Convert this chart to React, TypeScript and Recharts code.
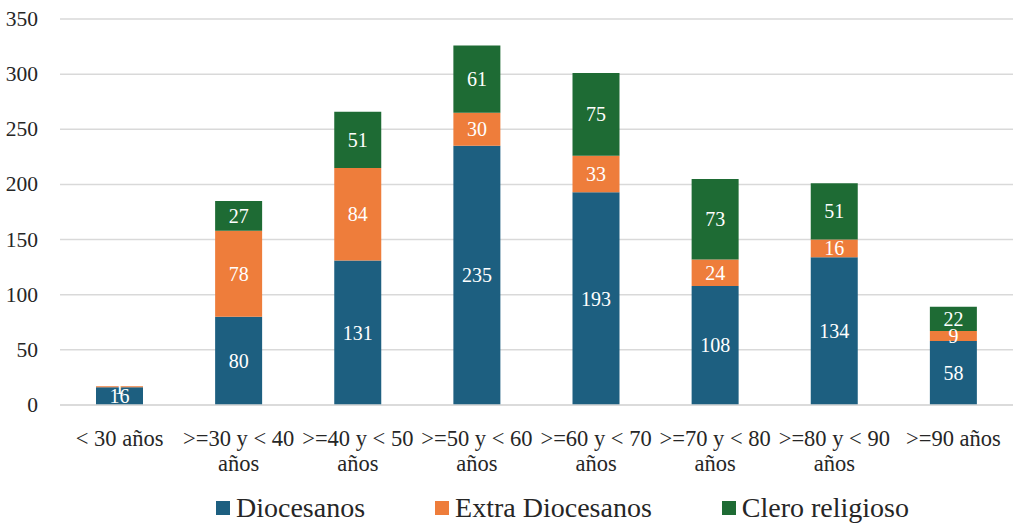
import React from "react";
import { BarChart, Bar, XAxis, YAxis, CartesianGrid, Legend, LabelList } from "recharts";

const categories = ["< 30 años", ">=30 y < 40 años", ">=40 y < 50 años", ">=50 y < 60 años", ">=60 y < 70 años", ">=70 y < 80 años", ">=80 y < 90 años", ">=90 años"];
const diocesanos = [16, 80, 131, 235, 193, 108, 134, 58];
const extraDiocesanos = [1, 78, 84, 30, 33, 24, 16, 9];
const cleroReligioso = [0, 27, 51, 61, 75, 73, 51, 22];
const yTicks = [0, 50, 100, 150, 200, 250, 300, 350];

const data = categories.map((c, i) => ({
  name: c,
  d: diocesanos[i],
  e: extraDiocesanos[i],
  c: cleroReligioso[i],
}));

const FONT = "'Liberation Serif'";
const COLORS = { d: "#1D5F80", e: "#EE7D3B", c: "#1E6B34" };

const XTick = (props: any) => {
  const { x, y, payload } = props;
  const label: string = payload.value;
  let lines: string[];
  if (label.startsWith(">=") && label.endsWith(" años") && label.includes(" y ")) {
    lines = [label.slice(0, -5), "años"];
  } else {
    lines = [label];
  }
  return (
    <g transform={`translate(${x},${y})`}>
      {lines.map((l, i) => (
        <text key={i} x={0} y={0} dy={33 + i * 25} textAnchor="middle" fill="#262626" fontSize={22.5} style={{ fontFamily: FONT }}>
          {l}
        </text>
      ))}
    </g>
  );
};

const YTick = (props: any) => {
  const { x, y, payload } = props;
  return (
    <text x={x} y={y} dy={7} textAnchor="end" fill="#262626" fontSize={21.5} style={{ fontFamily: FONT }}>
      {payload.value}
    </text>
  );
};

const renderLabel = (props: any) => {
  const { x, y, width, height, value } = props;
  if (!value) return null;
  return (
    <text x={x + width / 2} y={y + height / 2} dy={7} textAnchor="middle" fill="#ffffff" fontSize={20} style={{ fontFamily: FONT }}>
      {value}
    </text>
  );
};

const LegendContent = () => {
  const items = [
    { label: "Diocesanos", color: COLORS.d },
    { label: "Extra Diocesanos", color: COLORS.e },
    { label: "Clero religioso", color: COLORS.c },
  ];
  return (
    <div style={{ display: "flex", justifyContent: "center", paddingLeft: 112, gap: 70, fontFamily: FONT, fontSize: 28, color: "#262626" }}>
      {items.map((it) => (
        <div key={it.label} style={{ display: "flex", alignItems: "center" }}>
          <span style={{ display: "inline-block", width: 14, height: 14, background: it.color, marginRight: 6 }} />
          <span>{it.label}</span>
        </div>
      ))}
    </div>
  );
};

export default function App() {
  return (
    <div style={{ position: "absolute", left: 0, top: 0, width: 1013, height: 526, background: "#fff", fontFamily: FONT }}>
      <BarChart width={1013} height={526} data={data} margin={{ top: 19, right: 0, left: 0, bottom: 2 }} barCategoryGap={36}>
        <CartesianGrid vertical={false} stroke="#d9d9d9" strokeWidth={1.5} />
        <XAxis dataKey="name" tick={<XTick />} tickLine={false} axisLine={{ stroke: "#d9d9d9", strokeWidth: 1.5 }} interval={0} height={87} />
        <YAxis domain={[0, 350]} ticks={yTicks} width={60} tickLine={false} axisLine={false} tick={<YTick />} tickMargin={16} />
        <Legend verticalAlign="bottom" content={<LegendContent />} />
        <Bar dataKey="d" name="Diocesanos" stackId="a" fill={COLORS.d} isAnimationActive={false}>
          <LabelList dataKey="d" content={renderLabel} />
        </Bar>
        <Bar dataKey="e" name="Extra Diocesanos" stackId="a" fill={COLORS.e} isAnimationActive={false}>
          <LabelList dataKey="e" content={renderLabel} />
        </Bar>
        <Bar dataKey="c" name="Clero religioso" stackId="a" fill={COLORS.c} isAnimationActive={false}>
          <LabelList dataKey="c" content={renderLabel} />
        </Bar>
      </BarChart>
    </div>
  );
}
